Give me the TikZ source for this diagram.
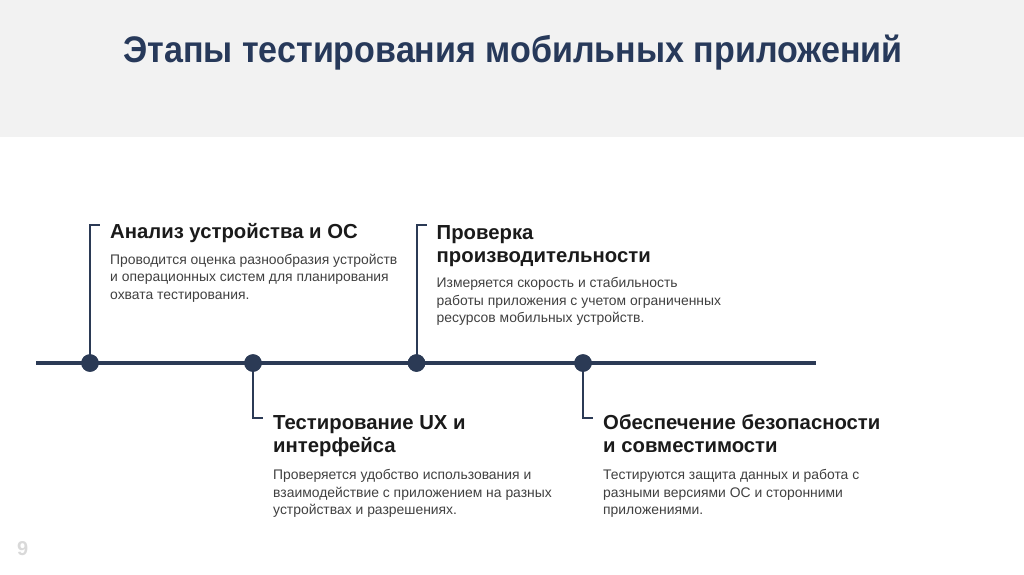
\documentclass[tikz,border=0pt]{standalone}
\usepackage{fontspec}
\setmainfont{Liberation Sans}
\newfontfamily\titlefont[FakeStretch=0.92]{Liberation Sans}
\definecolor{headbg}{HTML}{F2F2F2}
\definecolor{navy}{HTML}{2B3A55}
\definecolor{titletxt}{HTML}{27395A}
\definecolor{headtxt}{HTML}{1A1A1A}
\definecolor{desctxt}{HTML}{404040}
\definecolor{pgnum}{HTML}{D9D9D9}
\tikzset{
  heading/.style={anchor=base west, inner sep=0pt, align=left, text=headtxt,
    font=\bfseries\fontsize{20.3}{23.5}\selectfont},
  desc/.style={anchor=base west, inner sep=0pt, align=left, text=desctxt,
    font=\fontsize{13.9}{17.4}\selectfont},
  dot/.style={circle, fill=navy, minimum size=17.5pt, inner sep=0pt},
  stem/.style={draw=navy, line width=2pt},
  axis/.style={draw=navy, line width=4pt}
}
\begin{document}
\begin{tikzpicture}[x=1pt,y=-1pt]
\useasboundingbox (0,0) rectangle (1024,574);
\fill[headbg] (0,0) rectangle (1024,137);
\node[anchor=base, inner sep=0pt, text=titletxt, font=\titlefont\bfseries\fontsize{37}{42}\selectfont] (title) at (513,62) {Этапы тестирования мобильных приложений};

% timeline
\coordinate (tl) at (36,363);
\coordinate (tr) at (816,363);
\draw[axis] (tl) -- (tr);

\node[dot] (d1) at (90,363) {};
\node[dot] (d2) at (253,363) {};
\node[dot] (d3) at (416.5,363) {};
\node[dot] (d4) at (583,363) {};

\coordinate (c1) at (90,225);
\coordinate (e1) at (100,225);
\coordinate (c2) at (253,418);
\coordinate (e2) at (263,418);
\coordinate (c3) at (416.5,225);
\coordinate (e3) at (426.5,225);
\coordinate (c4) at (583,418);
\coordinate (e4) at (593,418);

\draw[stem] (d1.center) -- (c1) -- (e1);
\draw[stem] (d2.center) -- (c2) -- (e2);
\draw[stem] (d3.center) -- (c3) -- (e3);
\draw[stem] (d4.center) -- (c4) -- (e4);
\node[dot] at (d1) {};
\node[dot] at (d2) {};
\node[dot] at (d3) {};
\node[dot] at (d4) {};

% texts (base anchor = baseline of the last line)
\node[heading] (h1) at (110,238) {Анализ устройства и ОС};
\node[desc] (t1) at (110,299) {Проводится оценка разнообразия устройств\\и операционных систем для планирования\\охвата тестирования.};

\node[heading] (h3) at (436.5,262.5) {Проверка\\производительности};
\node[desc] (t3) at (436.5,322.5) {Измеряется скорость и стабильность\\работы приложения с учетом ограниченных\\ресурсов мобильных устройств.};

\node[heading] (h2) at (273,452.5) {Тестирование UX и\\интерфейса};
\node[desc] (t2) at (273,514.5) {Проверяется удобство использования и\\взаимодействие с приложением на разных\\устройствах и разрешениях.};

\node[heading] (h4) at (603,452.5) {Обеспечение безопасности\\и совместимости};
\node[desc] (t4) at (603,514.5) {Тестируются защита данных и работа с\\разными версиями ОС и сторонними\\приложениями.};

\node[anchor=base west, inner sep=0pt, text=pgnum, font=\bfseries\fontsize{20}{24}\selectfont] (pg) at (17,555.5) {9};
\end{tikzpicture}
\end{document}
